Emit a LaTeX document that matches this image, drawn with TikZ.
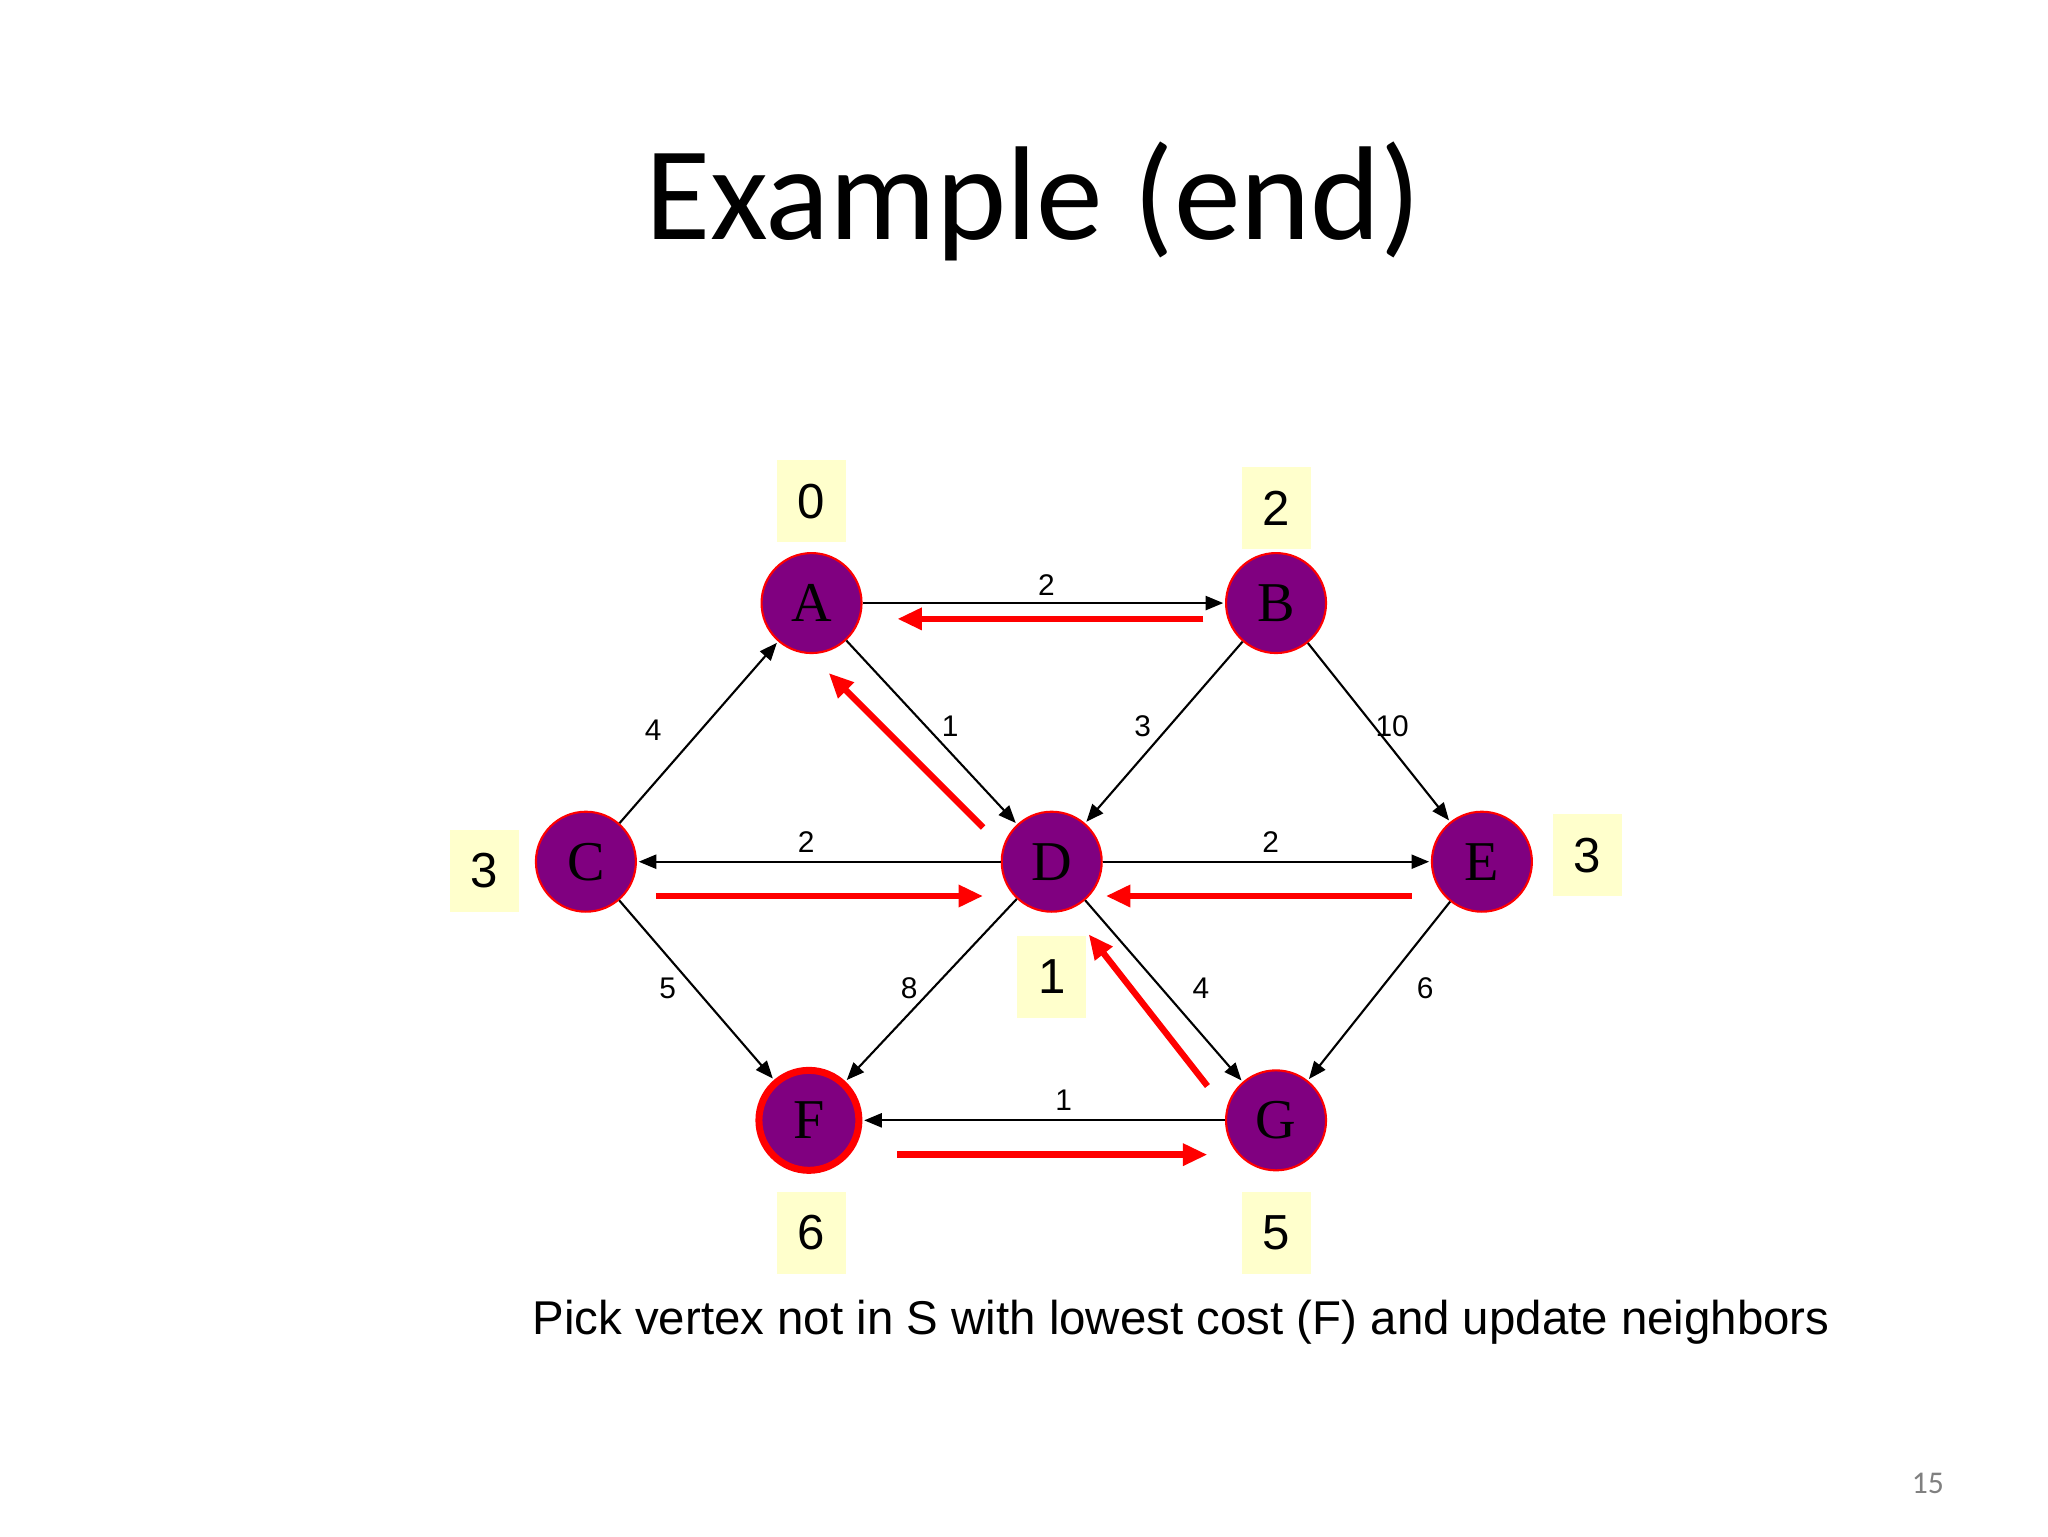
\documentclass[tikz,border=0pt]{standalone}
\usepackage{fontspec}
\setmainfont{Liberation Serif}
\newfontfamily\ttl{Carlito}
\newfontfamily\arl{Liberation Sans}
\usetikzlibrary{arrows.meta}
\definecolor{vpur}{RGB}{128,0,128}
\definecolor{lyel}{RGB}{255,255,204}
\begin{document}
\begin{tikzpicture}[x=0.013196cm,y=-0.013196cm,
 v/.style={circle,fill=vpur,draw=red,line width=0.6pt,minimum size=1.0cm,inner sep=0pt,font=\fontsize{16}{16}\selectfont},
 c/.style={fill=lyel,minimum width=0.69cm,minimum height=0.82cm,inner sep=0pt,font=\arl\fontsize{14}{14}\selectfont},
 e/.style={-{Triangle[length=5pt,width=4pt]},line width=0.6pt,shorten >=0.5pt},
 r/.style={-{Triangle[length=7pt,width=6pt]},red,line width=1.8pt},
 w/.style={font=\arl\fontsize{8.5}{8.5}\selectfont,inner sep=1pt}]
\useasboundingbox (0,0) rectangle (1552,1164);
\node[font=\ttl\fontsize{38}{38}\selectfont] (t) at (783,153) {Example (end)};
\node[v] (A) at (615,457) {A};
\node[v] (B) at (967,457) {B};
\node[v] (C) at (444,653) {C};
\node[v] (D) at (797,653) {D};
\node[v] (E) at (1123,653) {E};
\node[v,line width=2pt] (F) at (613,849) {F};
\node[v] (G) at (967,849) {G};
\node[c] (cA) at (615,380) {0};
\node[c] (cB) at (967,385) {2};
\node[c] (cC) at (367,660) {3};
\node[c] (cE) at (1203,648) {3};
\node[c] (cD) at (797,740) {1};
\node[c] (cF) at (615,934) {6};
\node[c] (cG) at (967,934) {5};
\draw[e] (A) -- (B);
\draw[e] (A) -- (D);
\draw[e] (C) -- (A);
\draw[e] (B) -- (D);
\draw[e] (B) -- (E);
\draw[e] (D) -- (C);
\draw[e] (D) -- (E);
\draw[e] (C) -- (F);
\draw[e] (D) -- (F);
\draw[e] (D) -- (G);
\draw[e] (E) -- (G);
\draw[e] (G) -- (F);
\node[w] (l1) at (793,443) {2};
\node[w] (l2) at (720,550) {1};
\node[w] (l3) at (495,553) {4};
\node[w] (l4) at (866,550) {3};
\node[w] (l5) at (1055,550) {10};
\node[w] (l6) at (611,638) {2};
\node[w] (l7) at (963,638) {2};
\node[w] (l8) at (506,749) {5};
\node[w] (l9) at (689,749) {8};
\node[w] (l10) at (910,749) {4};
\node[w] (l11) at (1080,749) {6};
\node[w] (l12) at (806,834) {1};
\coordinate (r1a) at (912,469); \coordinate (r1b) at (680,469);
\coordinate (r2a) at (745,627); \coordinate (r2b) at (628,510);
\coordinate (r3a) at (497,679); \coordinate (r3b) at (745,679);
\coordinate (r4a) at (1070,679); \coordinate (r4b) at (838,679);
\coordinate (r5a) at (915,823); \coordinate (r5b) at (825,708);
\coordinate (r6a) at (680,875); \coordinate (r6b) at (915,875);
\draw[r] (r1a) -- (r1b);
\draw[r] (r2a) -- (r2b);
\draw[r] (r3a) -- (r3b);
\draw[r] (r4a) -- (r4b);
\draw[r] (r5a) -- (r5b);
\draw[r] (r6a) -- (r6b);
\node[font=\arl\fontsize{13.5}{13.5}\selectfont] (cap) at (895,1002) {Pick vertex not in S with lowest cost (F) and update neighbors};
\node[font=\ttl\fontsize{9}{9}\selectfont,text=gray] (pg) at (1461,1124) {15};
\end{tikzpicture}
\end{document}
